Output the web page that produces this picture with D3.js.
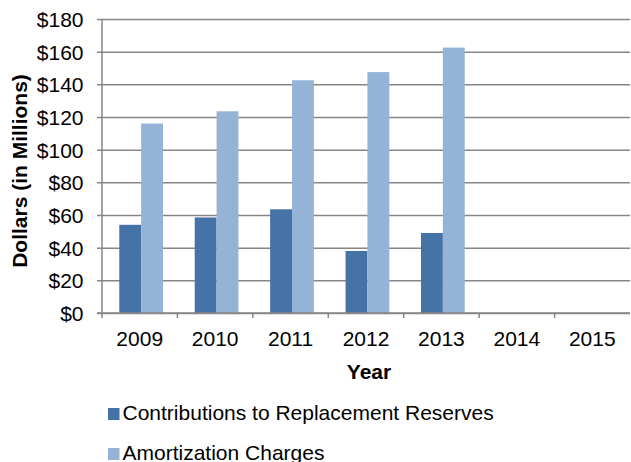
<!DOCTYPE html>
<html>
<head>
<meta charset="utf-8">
<script src="https://cdn.jsdelivr.net/npm/d3@7"></script>
<style>
  html, body { margin: 0; padding: 0; background: #fff; }
  svg { display: block; font-family: Arial, "Liberation Sans", sans-serif; }
</style>
</head>
<body>
<svg id="chart" width="631" height="462"></svg>
<script>
// Chart data
const years = ["2009", "2010", "2011", "2012", "2013", "2014", "2015"];
const contributions = [54, 58.5, 63.5, 38, 49, null, null];
const amortization = [116, 123.5, 142.5, 147.5, 162.5, null, null];
const seriesNames = ["Contributions to Replacement Reserves", "Amortization Charges"];
const seriesColors = ["#4572A7", "#95B3D7"];
const yTicks = [0, 20, 40, 60, 80, 100, 120, 140, 160, 180];

const svg = d3.select("#chart");
const plot = { left: 102, right: 630, top: 19, bottom: 313 };
const gridColor = "#868686";
const fontSize = "21px";

// One full slot per year; bars sit inside each slot
const x0 = d3.scaleBand()
  .domain(years)
  .range([plot.left, plot.right])
  .padding(0);

const x1 = d3.scaleBand()
  .domain([0, 1])
  .range([x0.step() * 0.229, x0.step() * 0.809]);

const y = d3.scaleLinear()
  .domain([0, 180])
  .range([plot.bottom, plot.top]);

// Horizontal gridlines with small left ticks
const yAxis = d3.axisLeft(y)
  .tickValues(yTicks)
  .tickFormat(d => "$" + d)
  .tickSizeInner(-(plot.right - plot.left))
  .tickSizeOuter(0)
  .tickPadding(0);

const gy = svg.append("g")
  .attr("transform", `translate(${plot.left},0)`)
  .call(yAxis);
gy.select(".domain").remove();
gy.selectAll(".tick line")
  .attr("x1", -5)
  .attr("stroke", gridColor)
  .attr("stroke-width", 1.5);
gy.selectAll(".tick text")
  .attr("x", -18.5)
  .attr("dy", "0.35em")
  .attr("fill", "#000")
  .style("font-size", fontSize);

// Bars
const rows = years.map((yr, i) => ({ year: yr, values: [contributions[i], amortization[i]] }));
svg.append("g")
  .selectAll("g")
  .data(rows)
  .join("g")
  .attr("transform", d => `translate(${x0(d.year)},0)`)
  .selectAll("rect")
  .data(d => d.values.map((v, k) => ({ k, v })).filter(e => e.v != null))
  .join("rect")
  .attr("x", e => x1(e.k))
  .attr("width", x1.bandwidth())
  .attr("y", e => y(e.v))
  .attr("height", e => y(0) - y(e.v))
  .attr("fill", e => seriesColors[e.k]);

// Vertical axis line
svg.append("line")
  .attr("x1", plot.left).attr("x2", plot.left)
  .attr("y1", plot.top).attr("y2", plot.bottom)
  .attr("stroke", gridColor).attr("stroke-width", 1.5);

// Category axis with ticks between years
const gx = svg.append("g");
gx.append("line")
  .attr("x1", plot.left - 5).attr("x2", plot.right)
  .attr("y1", plot.bottom).attr("y2", plot.bottom)
  .attr("stroke", gridColor).attr("stroke-width", 1.5);
gx.selectAll("line.tk")
  .data(years)
  .join("line")
  .attr("class", "tk")
  .attr("x1", d => x0(d)).attr("x2", d => x0(d))
  .attr("y1", plot.bottom).attr("y2", plot.bottom + 5)
  .attr("stroke", gridColor).attr("stroke-width", 1.5);
gx.selectAll("text")
  .data(years)
  .join("text")
  .attr("x", d => x0(d) + x0.bandwidth() / 2)
  .attr("y", 345.5)
  .attr("text-anchor", "middle")
  .style("font-size", fontSize)
  .text(d => d);

// Axis titles
svg.append("text")
  .attr("x", 369)
  .attr("y", 378.5)
  .attr("text-anchor", "middle")
  .style("font-size", fontSize)
  .style("font-weight", "bold")
  .text("Year");

svg.append("text")
  .attr("transform", "translate(27,171) rotate(-90)")
  .attr("text-anchor", "middle")
  .style("font-size", fontSize)
  .style("font-weight", "bold")
  .text("Dollars (in Millions)");

// Legend
const legend = svg.append("g")
  .selectAll("g")
  .data(seriesNames)
  .join("g")
  .attr("transform", (d, i) => `translate(108,${420 + i * 40})`);
legend.append("rect")
  .attr("x", 0).attr("y", -12)
  .attr("width", 11.5).attr("height", 12)
  .attr("fill", (d, i) => seriesColors[i]);
legend.append("text")
  .attr("x", 14.5).attr("y", 0)
  .style("font-size", fontSize)
  .text(d => d);
</script>
</body>
</html>
